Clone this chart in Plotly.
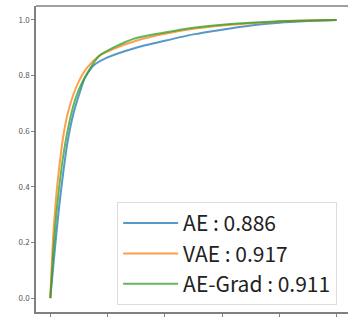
import plotly.graph_objects as go

ae_fpr = [0, 0.01, 0.02, 0.03, 0.045, 0.06, 0.08, 0.1, 0.12, 0.15, 0.2, 0.3, 0.4, 0.5, 0.6, 0.7, 0.8, 0.9, 1.0]
ae_tpr = [0, 0.11, 0.22, 0.32, 0.45, 0.56, 0.66, 0.73, 0.79, 0.835, 0.865, 0.9, 0.925, 0.948, 0.965, 0.98, 0.99, 0.996, 1.0]

vae_fpr = [0, 0.005, 0.01, 0.02, 0.03, 0.045, 0.06, 0.08, 0.1, 0.13, 0.17, 0.22, 0.3, 0.4, 0.5, 0.6, 0.7, 0.8, 0.9, 1.0]
vae_tpr = [0, 0.12, 0.22, 0.36, 0.46, 0.58, 0.66, 0.73, 0.78, 0.83, 0.87, 0.895, 0.925, 0.95, 0.968, 0.98, 0.988, 0.994, 0.998, 1.0]

grad_fpr = [0, 0.005, 0.01, 0.02, 0.03, 0.045, 0.06, 0.08, 0.1, 0.13, 0.17, 0.22, 0.3, 0.4, 0.5, 0.6, 0.7, 0.8, 0.9, 1.0]
grad_tpr = [0, 0.08, 0.16, 0.29, 0.39, 0.51, 0.60, 0.69, 0.75, 0.81, 0.87, 0.9, 0.935, 0.955, 0.972, 0.983, 0.99, 0.995, 0.998, 1.0]

names = ["AE : 0.886", "VAE : 0.917", "AE-Grad : 0.911"]
colors = ["#1f77b4", "#ff7f0e", "#2ca02c"]
series = [(ae_fpr, ae_tpr), (vae_fpr, vae_tpr), (grad_fpr, grad_tpr)]
ticks = [0.0, 0.2, 0.4, 0.6, 0.8, 1.0]
tick_text = ["0.0", "0.2", "0.4", "0.6", "0.8", "1.0"]

fig = go.Figure()
for (x, y), n, c in zip(series, names, colors):
    fig.add_trace(go.Scatter(x=x, y=y, mode="lines", name=n, legendgroup=n,
                             line=dict(color=c, width=2, shape="spline", smoothing=0.6),
                             opacity=0.75))

axis_common = dict(showgrid=False, zeroline=False, showline=True, linecolor="#808080", linewidth=1.5,
                   ticks="outside", ticklen=3, tickcolor="#808080", tickwidth=1, automargin=False,
                   tickfont=dict(size=8, color="#555555", family="Noto Sans CJK JP"),
                   tickvals=ticks, ticktext=tick_text)

fig.update_layout(
    template="none",
    width=348, height=320,
    margin=dict(l=36, r=0, t=6, b=8),
    paper_bgcolor="white", plot_bgcolor="white",
    xaxis=dict(range=[-0.05, 1.04], **axis_common),
    yaxis=dict(range=[-0.05, 1.05], **axis_common),
    legend=dict(x=0.26, y=0.023, xanchor="left", yanchor="bottom",
                font=dict(size=21, color="#222222", family="Noto Sans CJK JP"),
                bgcolor="rgba(255,255,255,0.8)", bordercolor="#dddddd", borderwidth=1,
                itemwidth=55, tracegroupgap=0, traceorder="grouped"),
    shapes=[dict(type="line", xref="paper", yref="paper", x0=0, x1=1, y0=1, y1=1,
                 line=dict(color="#808080", width=1.5))],
)

fig.write_html("out.html", config={"displayModeBar": False},
               post_script="document.body.style.margin='0';document.body.style.padding='0';")
